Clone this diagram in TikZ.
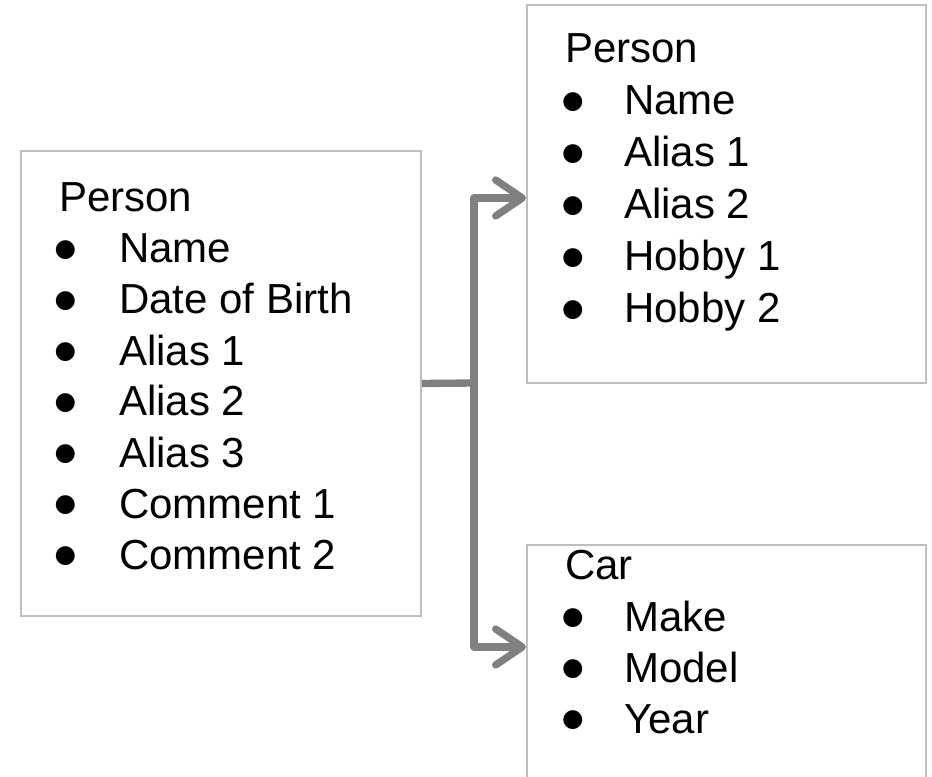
\documentclass[tikz,border=0pt]{standalone}
\usepackage{fontspec}
\setmainfont{Liberation Sans}
\newfontfamily\symfont{DejaVu Sans}
\usetikzlibrary{arrows.meta}
\definecolor{boxline}{HTML}{BFBFBF}
\definecolor{connline}{HTML}{808080}
\tikzset{
  box/.style={draw=boxline, line width=1.5pt, rectangle, inner sep=0pt},
  txt/.style={anchor=base west, inner sep=0pt, font=\fontsize{31.5}{38}\selectfont},
  bul/.style={anchor=base, inner sep=0pt, font=\symfont\fontsize{18.5}{22}\selectfont},
  conn/.style={draw=connline, line width=5.5pt, line join=round},
  tip/.style={-{Straight Barb[length=20pt, width=27pt, round]}}
}
\begin{document}
\begin{tikzpicture}[x=0.75pt, y=-0.75pt]
  \useasboundingbox (0,0) rectangle (932,777);
  \clip (0,0) rectangle (932,777);

  % boxes
  \node[box, minimum width=400*0.75pt, minimum height=465*0.75pt] (src) at (221,383.5) {};
  \node[box, minimum width=399*0.75pt, minimum height=378*0.75pt] (per) at (726.5,194) {};
  \node[box, minimum width=399*0.75pt, minimum height=300*0.75pt] (car) at (726.5,695) {};

  % source record
  \node[txt] (s0) at (59,212) {Person};
  \foreach \t/\y [count=\i] in {Name/263, Date of Birth/314, Alias 1/365, Alias 2/416,
                                Alias 3/467, Comment 1/518, Comment 2/569} {
    \node[bul] (sb\i) at (65.5,\y-6.5) {●};
    \node[txt] (s\i) at (119,\y) {\t};
  }

  % person record
  \node[txt] (p0) at (565,63) {Person};
  \foreach \t/\y [count=\i] in {Name/115, Alias 1/167, Alias 2/219, Hobby 1/271, Hobby 2/323} {
    \node[bul] (pb\i) at (573,\y-6.5) {●};
    \node[txt] (p\i) at (624,\y) {\t};
  }

  % car record
  \node[txt] (c0) at (565,579) {Car};
  \foreach \t/\y [count=\i] in {Make/631, Model/682, Year/733} {
    \node[bul] (cb\i) at (573,\y-6.5) {●};
    \node[txt] (c\i) at (624,\y) {\t};
  }

  % split connector
  \coordinate (j) at (474,383);
  \draw[conn] (src.east) -- (j);
  \draw[conn, tip] (j) |- ([yshift=-3pt]per.west);
  \draw[conn, tip] (j) |- ([yshift=-77.25pt]car.north west);
\end{tikzpicture}
\end{document}
